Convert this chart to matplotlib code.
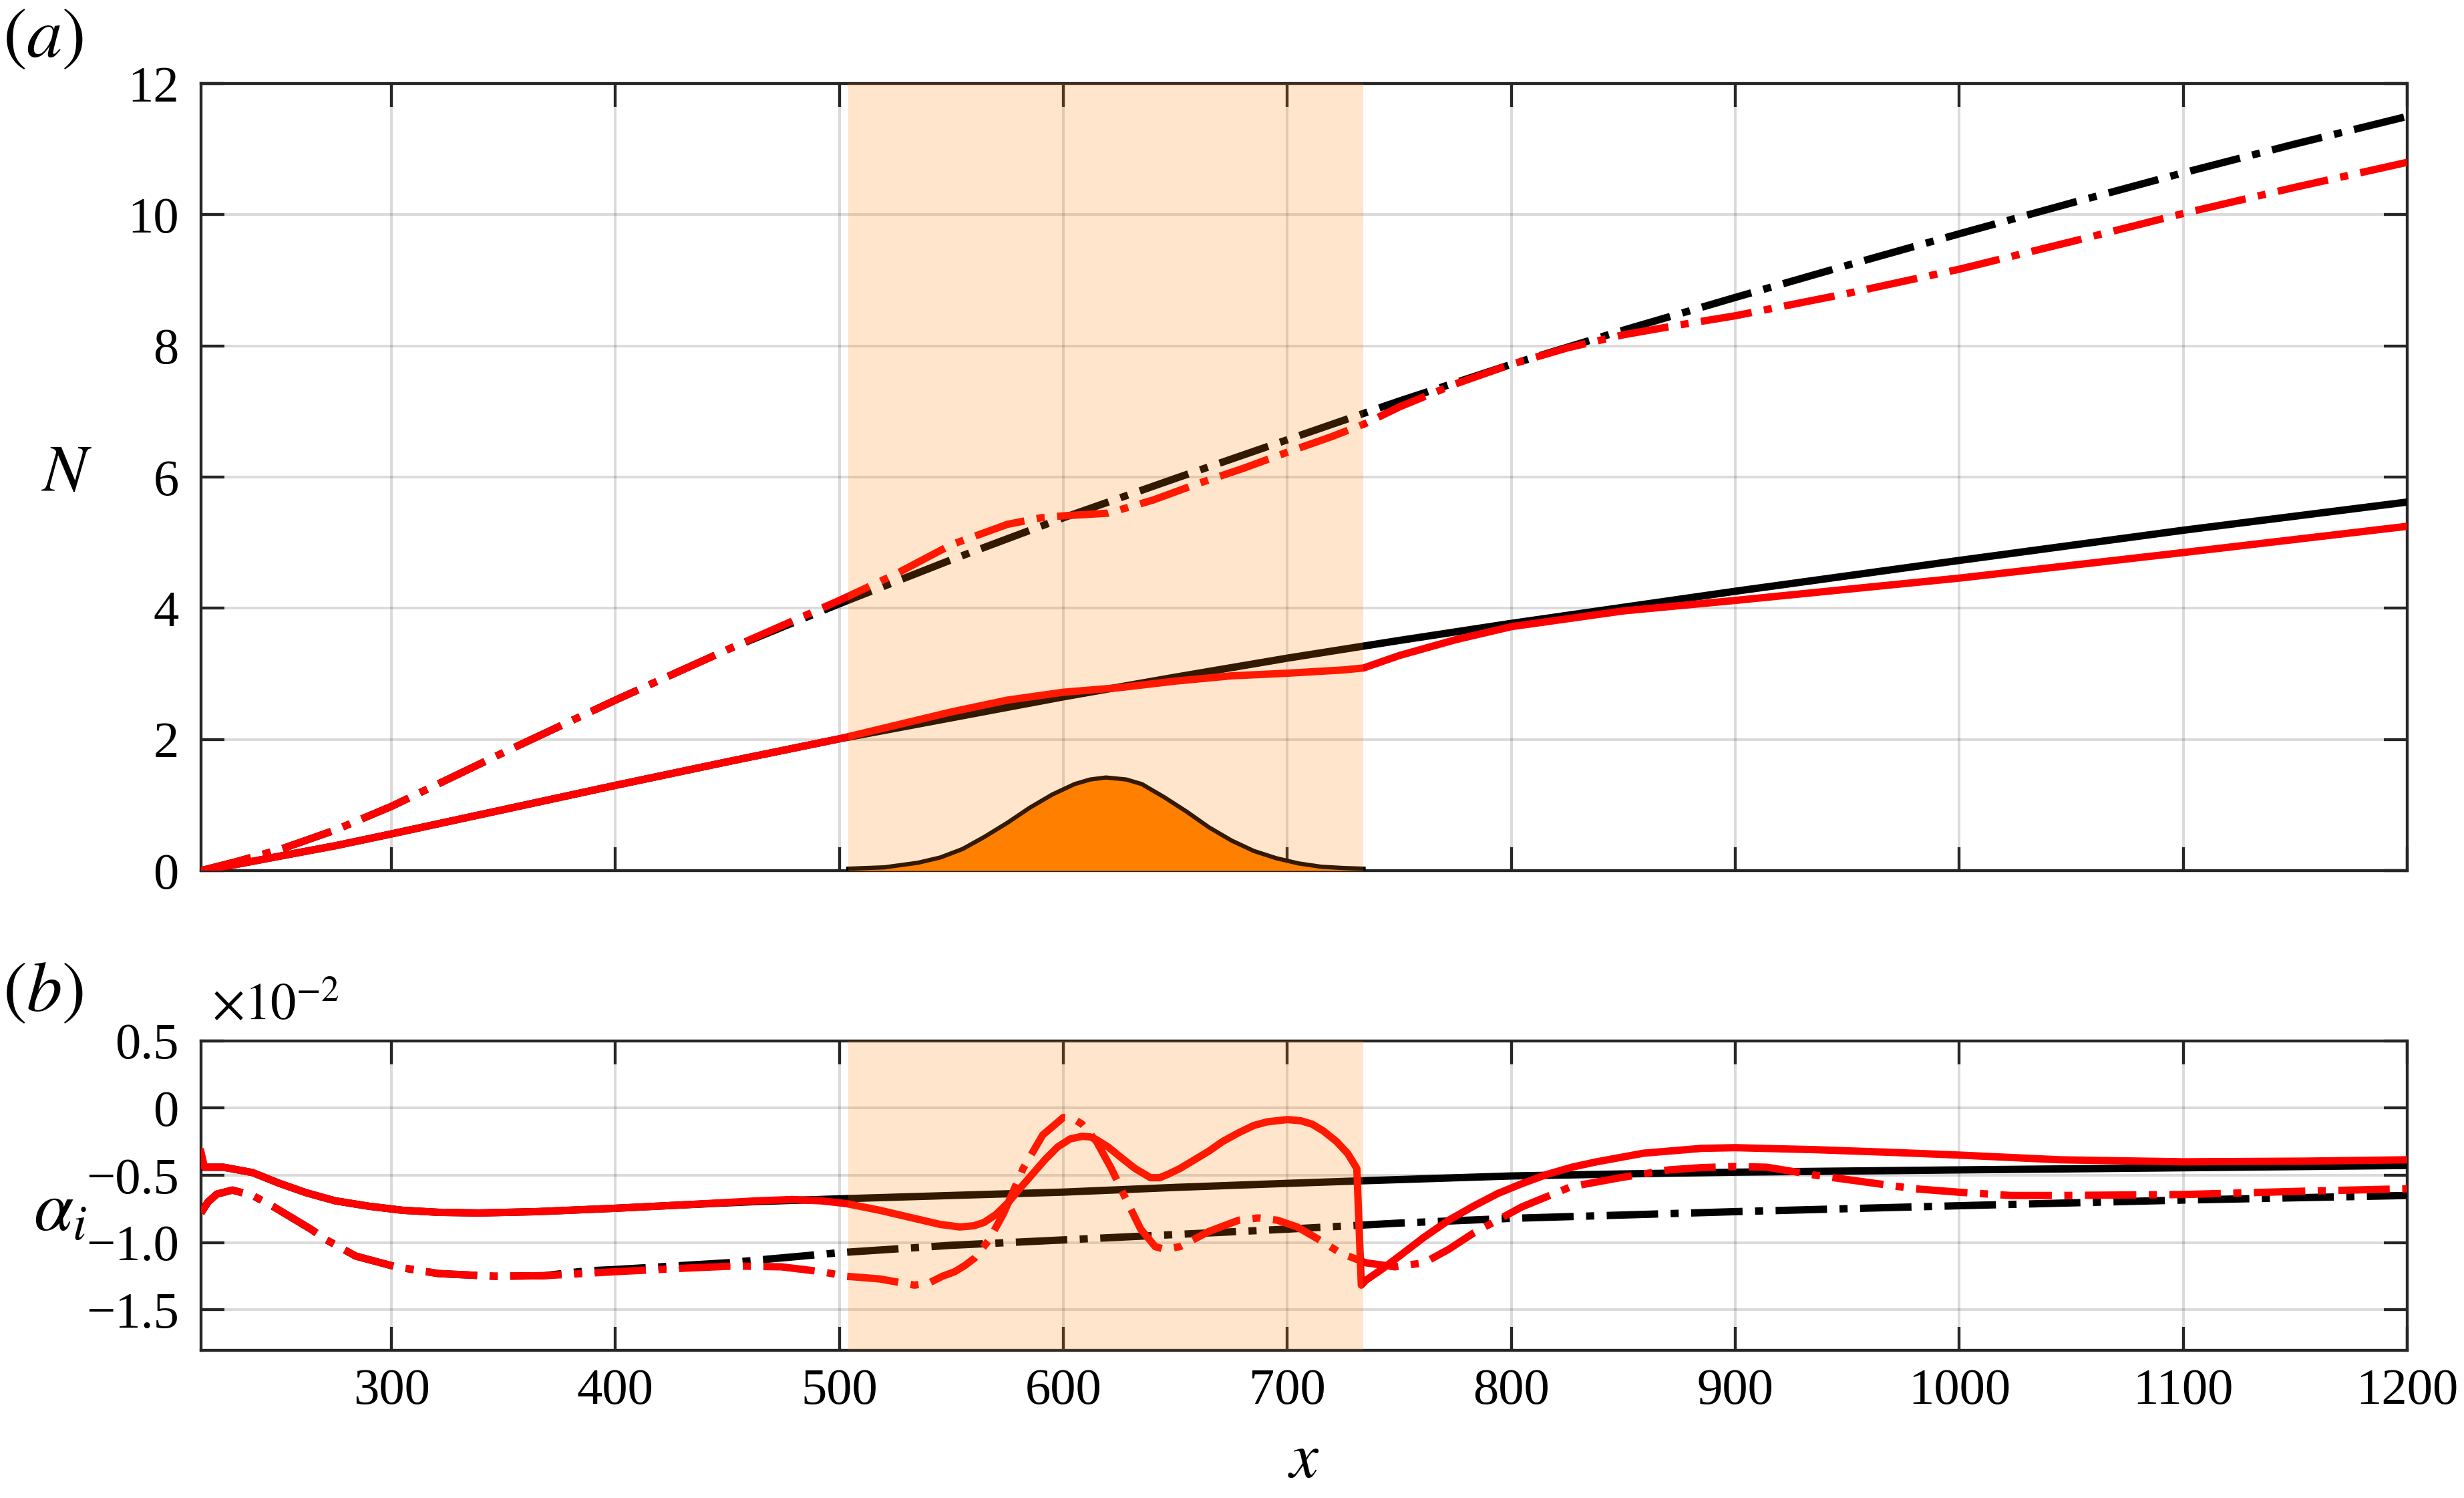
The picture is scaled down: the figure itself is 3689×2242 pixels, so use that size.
import matplotlib
matplotlib.use("Agg")
import matplotlib.pyplot as plt

plt.rcParams['font.family'] = ['Liberation Serif', 'DejaVu Serif']
plt.rcParams['mathtext.fontset'] = 'stix'

# forcing region (shaded) and its hump
span_lo, span_hi = 504, 734
hump_x = [504, 520, 535, 545, 555, 565, 575, 585, 595, 605, 612, 619, 628, 635, 645,
          655, 665, 675, 685, 695, 705, 715, 725, 734]
hump_y = [0.03, 0.05, 0.12, 0.20, 0.33, 0.52, 0.73, 0.96, 1.16, 1.32, 1.39, 1.42, 1.39,
          1.32, 1.12, 0.90, 0.66, 0.46, 0.30, 0.19, 0.11, 0.06, 0.04, 0.03]

# ---- (a) N factor ----
xa_black = [215, 230, 250, 275, 300, 350, 400, 450, 500, 550, 600, 650, 700, 750, 800,
            900, 1000, 1100, 1200]
Na_black = [0, 0.09, 0.22, 0.38, 0.56, 0.93, 1.30, 1.66, 2.01, 2.33, 2.65, 2.95, 3.24,
            3.51, 3.77, 4.26, 4.73, 5.19, 5.62]

xa_red = [215, 230, 250, 275, 300, 350, 400, 450, 500, 550, 575, 600, 625, 650, 675, 700,
          725, 734, 750, 775, 800, 850, 900, 1000, 1100, 1200]
Na_red = [0, 0.09, 0.22, 0.38, 0.56, 0.93, 1.30, 1.66, 2.01, 2.42, 2.60, 2.72, 2.79, 2.89,
          2.97, 3.01, 3.06, 3.09, 3.28, 3.52, 3.72, 3.96, 4.12, 4.46, 4.85, 5.25]

xa_bdd = [215, 230, 250, 275, 300, 350, 400, 450, 500, 550, 600, 650, 700, 750, 800, 850,
          900, 950, 1000, 1050, 1100, 1150, 1200]
Na_bdd = [0, 0.13, 0.32, 0.62, 0.98, 1.80, 2.60, 3.37, 4.07, 4.74, 5.38, 5.98, 6.57, 7.16,
          7.72, 8.24, 8.74, 9.23, 9.71, 10.18, 10.64, 11.08, 11.50]

xa_rdd = [215, 230, 250, 275, 300, 350, 400, 450, 500, 525, 550, 575, 590, 600, 620, 640,
          660, 680, 700, 720, 735, 750, 775, 800, 825, 850, 875, 900, 950, 1000, 1050, 1100,
          1150, 1200]
Na_rdd = [0, 0.13, 0.32, 0.62, 0.98, 1.80, 2.60, 3.37, 4.12, 4.52, 4.97, 5.28, 5.38, 5.41,
          5.45, 5.65, 5.90, 6.13, 6.38, 6.62, 6.82, 7.07, 7.42, 7.72, 7.97, 8.17, 8.32, 8.46,
          8.80, 9.17, 9.59, 10.02, 10.42, 10.80]

# ---- (b) growth rate alpha_i (x1e-2) ----
xb_black = [215, 225, 238, 250, 262, 275, 290, 305, 321, 339, 365, 400, 430, 463, 500, 550,
            600, 650, 700, 735, 800, 850, 900, 1000, 1100, 1200]
ab_black = [-0.44, -0.44, -0.48, -0.56, -0.63, -0.69, -0.73, -0.76, -0.775, -0.78, -0.77,
            -0.745, -0.72, -0.695, -0.675, -0.65, -0.625, -0.59, -0.56, -0.54, -0.505, -0.49,
            -0.477, -0.46, -0.444, -0.427]

xb_red = [215, 216.5, 225, 238, 250, 262, 275, 290, 305, 321, 339, 365, 400, 430, 463, 479,
          492, 503, 518, 536, 545, 553.7, 560, 564.6, 570, 575.5, 581, 586.5, 592, 597.4,
          603, 608.3, 612, 614.8, 620, 625.8, 632, 638.9, 643, 647, 652, 658, 665, 671, 678,
          685, 691, 700, 706, 711, 716, 722, 727, 731, 733, 735, 742, 750, 761, 772, 783,
          794, 805, 816, 827, 838, 859, 885, 900, 936, 970, 1000, 1045, 1100, 1154, 1200]
ab_red = [-0.33, -0.44, -0.44, -0.48, -0.56, -0.63, -0.69, -0.73, -0.76, -0.775, -0.78,
          -0.77, -0.745, -0.72, -0.69, -0.68, -0.69, -0.71, -0.76, -0.83, -0.865, -0.884,
          -0.875, -0.85, -0.79, -0.70, -0.59, -0.485, -0.38, -0.29, -0.23, -0.211, -0.215,
          -0.236, -0.29, -0.369, -0.45, -0.518, -0.518, -0.49, -0.45, -0.39, -0.32, -0.25,
          -0.186, -0.13, -0.103, -0.086, -0.095, -0.12, -0.17, -0.25, -0.34, -0.45, -1.316,
          -1.28, -1.20, -1.10, -0.96, -0.834, -0.73, -0.635, -0.56, -0.493, -0.44, -0.40,
          -0.336, -0.30, -0.295, -0.31, -0.33, -0.35, -0.385, -0.40, -0.395, -0.385]

xb_bdd = [215, 218, 222, 229, 238, 247, 256, 264, 271, 284, 302, 321, 346, 368, 387, 400,
          450, 500, 550, 600, 650, 700, 750, 800, 900, 1000, 1100, 1200]
ab_bdd = [-0.78, -0.70, -0.64, -0.61, -0.65, -0.73, -0.82, -0.90, -0.98, -1.10, -1.18, -1.23,
          -1.25, -1.246, -1.21, -1.20, -1.15, -1.075, -1.02, -0.98, -0.94, -0.90, -0.855,
          -0.82, -0.77, -0.726, -0.684, -0.65]

xb_rdd = [215, 218, 222, 229, 238, 247, 256, 264, 271, 284, 302, 321, 346, 368, 400, 431,
          453, 474, 492, 503, 518, 533.5, 540, 546, 551.5, 556, 560.3, 566.8, 573.4, 582,
          590.8, 600, 604, 608.3, 614.8, 621.4, 628, 634.5, 641, 645.4, 652, 665, 678.2, 687,
          695.6, 704.4, 713, 724, 735, 748, 761, 772, 783, 804.8, 826.6, 848.5, 870.3, 885,
          900, 914, 936, 958, 980, 1000, 1023, 1045, 1100, 1154, 1200]
ab_rdd = [-0.78, -0.70, -0.64, -0.61, -0.65, -0.73, -0.82, -0.90, -0.98, -1.10, -1.18, -1.23,
          -1.25, -1.246, -1.216, -1.19, -1.174, -1.18, -1.216, -1.25, -1.27, -1.316, -1.30,
          -1.25, -1.216, -1.17, -1.116, -0.98, -0.78, -0.45, -0.20, -0.07, -0.075, -0.12,
          -0.25, -0.45, -0.68, -0.90, -1.03, -1.05, -1.03, -0.917, -0.834, -0.817, -0.834,
          -0.884, -0.967, -1.08, -1.15, -1.18, -1.15, -1.05, -0.93, -0.734, -0.585, -0.518,
          -0.46, -0.443, -0.435, -0.44, -0.50, -0.55, -0.60, -0.626, -0.65, -0.65, -0.643,
          -0.618, -0.60]

xticks = [300, 400, 500, 600, 700, 800, 900, 1000, 1100, 1200]
yticks_a = [0, 2, 4, 6, 8, 10, 12]
yticks_b = [0.5, 0, -0.5, -1.0, -1.5]
yticklabels_b = ['0.5', '0', '\u22120.5', '\u22121.0', '\u22121.5']

LW = 3.3
DASHDOT = (0, (7.0, 1.7, 1.1, 1.7))
EDGE = '#262626'


def style(ax):
    ax.grid(True, color='k', alpha=0.14, lw=1.2)
    ax.tick_params(direction='in', length=10.5, width=1.3, colors=EDGE, labelcolor='k',
                   top=True, right=True, labelsize=23)
    ax.tick_params(axis='y', pad=10)
    ax.tick_params(axis='x', pad=8)
    for s in ax.spines.values():
        s.set_linewidth(1.3)
        s.set_color(EDGE)
    ax.set_xlim(215, 1200)
    ax.set_xticks(xticks)
    ax.axvspan(span_lo, span_hi, color='#FF8000', alpha=0.2, lw=0, zorder=10)


fig = plt.figure(figsize=(3689 / 240, 2242 / 240), dpi=240)
ax1 = fig.add_axes([0.0816, 0.4188, 0.8954, 0.5254])
ax2 = fig.add_axes([0.0816, 0.0986, 0.8954, 0.2067])

# panel (a)
ax1.fill_between(hump_x, 0, hump_y, color='#FF8000', lw=0, zorder=3)
ax1.plot(hump_x, hump_y, color='k', lw=1.9, zorder=4)
ax1.plot(xa_black, Na_black, color='k', lw=LW, zorder=5)
ax1.plot(xa_bdd, Na_bdd, color='k', lw=LW, ls=DASHDOT, zorder=5)
ax1.plot(xa_red, Na_red, color='#FF0000', lw=LW, zorder=6)
ax1.plot(xa_rdd, Na_rdd, color='#FF0000', lw=LW, ls=DASHDOT, zorder=6)
style(ax1)
ax1.set_ylim(0, 12)
ax1.set_yticks(yticks_a)
ax1.tick_params(labelbottom=False)

# panel (b)
ax2.plot(xb_black, ab_black, color='k', lw=LW, zorder=5)
ax2.plot(xb_bdd, ab_bdd, color='k', lw=LW, ls=DASHDOT, zorder=5)
ax2.plot(xb_red, ab_red, color='#FF0000', lw=LW, zorder=6)
ax2.plot(xb_rdd, ab_rdd, color='#FF0000', lw=LW, ls=DASHDOT, zorder=6)
style(ax2)
ax2.set_ylim(-1.8, 0.5)
ax2.set_yticks(yticks_b)
ax2.set_yticklabels(yticklabels_b)

# labels
fig.text(0.001, 0.9737, r'$(a)$', fontsize=32, ha='left', va='center')
fig.text(0.001, 0.3368, r'$(b)$', fontsize=32, ha='left', va='center')
fig.text(0.0268, 0.683, r'$N$', fontsize=30, ha='center', va='center')
fig.text(0.0245, 0.190, r'$\alpha_i$', fontsize=32, ha='center', va='center')
fig.text(0.529, 0.024, r'$x$', fontsize=29, ha='center', va='center')
fig.text(0.086, 0.328, r'$\times 10^{-2}$', fontsize=23, ha='left', va='center')

fig.savefig('out.png', dpi=240)
